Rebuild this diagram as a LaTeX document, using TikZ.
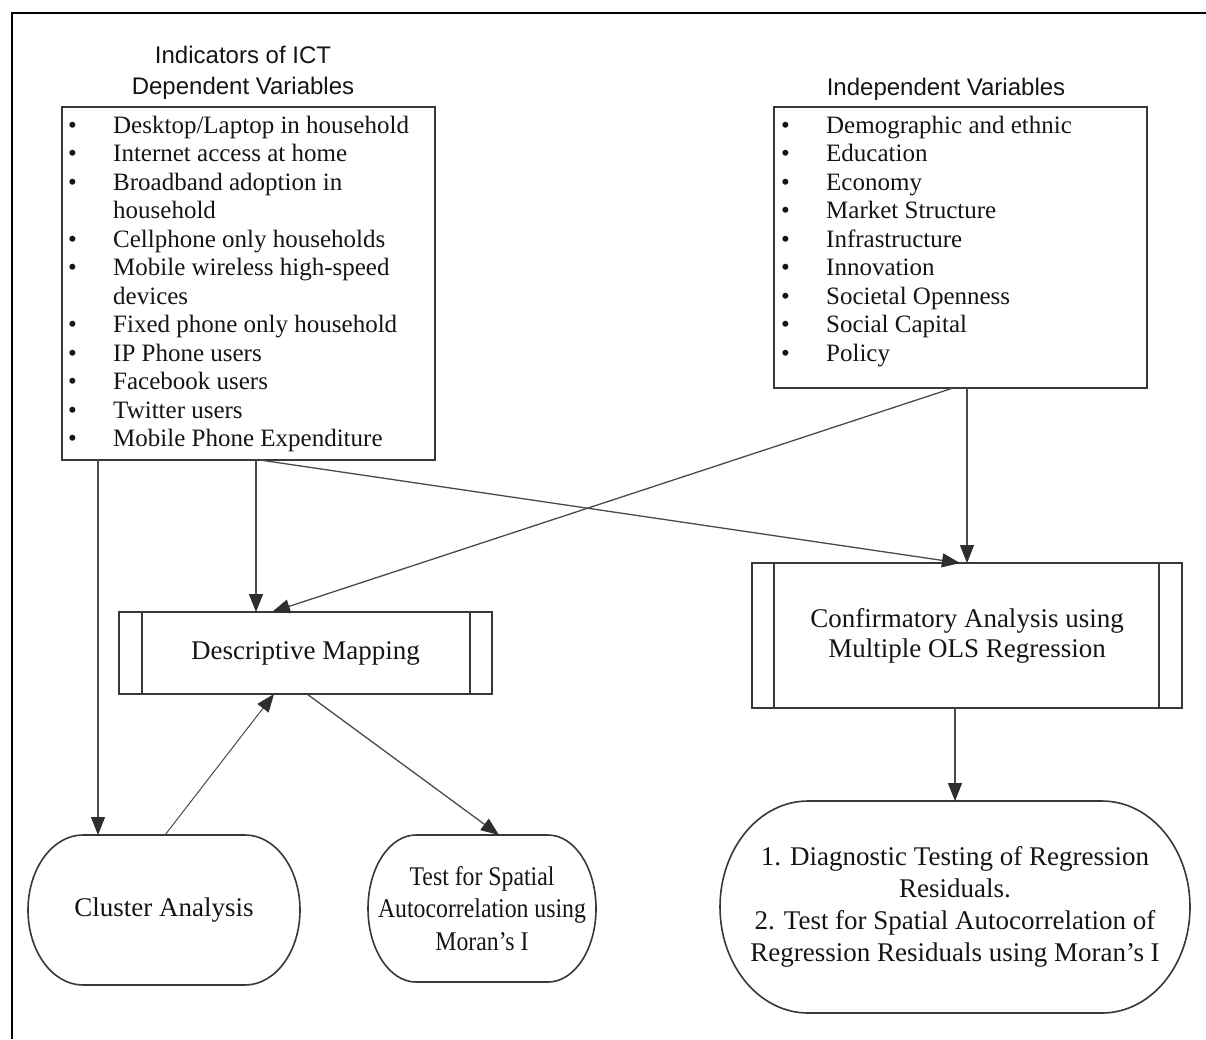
\documentclass[tikz,border=0pt]{standalone}
\usepackage{fontspec}
\setmainfont{Liberation Serif}
\newfontfamily\titlefont{Liberation Sans}
\newfontfamily\narrowserif[FakeStretch=0.88,Ligatures=TeX]{Liberation Serif}
\usetikzlibrary{arrows.meta,calc}

\definecolor{edge}{HTML}{383838}
\definecolor{wire}{HTML}{4A4A4A}
\definecolor{tipc}{HTML}{2E2E2E}
\definecolor{ink}{HTML}{151515}

\tikzset{
  boxnode/.style={draw=edge, line width=1.8pt, inner sep=0pt, outer sep=0pt},
  termnode/.style={draw=none, inner sep=0pt, outer sep=0pt, align=center, text=ink,
                   font=\fontsize{27}{32}\selectfont},
  shapeline/.style={draw=edge, line width=1.6pt},
  listtext/.style={inner sep=0pt, anchor=base west, text=ink,
                   font=\fontsize{25}{28.5}\selectfont},
  titletext/.style={inner sep=0pt, anchor=base, text=ink,
                    font=\titlefont\fontsize{24}{31}\selectfont},
  arr/.style={draw=wire, line width=1.3pt,
              -{Triangle[length=18pt,width=14pt,color=tipc]}},
}

% terminator outline drawn around a named node: #1 node, #2 end x-radius, #3 half height
\newcommand\termoutline[3]{%
  \draw[shapeline] ([xshift=#2]#1.north west) -- ([xshift=-#2]#1.north east)
    arc[start angle=90, end angle=-90, x radius=#2, y radius=#3]
    -- ([xshift=#2]#1.south west)
    arc[start angle=270, end angle=90, x radius=#2, y radius=#3] -- cycle;}

\begin{document}
\begin{tikzpicture}[x=1pt,y=-1pt]
\useasboundingbox (0,0) rectangle (1206,1039);
\fill[white] (0,0) rectangle (1206,1039);

% outer frame
\draw[line width=2.5pt, black] (12,1039) -- (12,13) -- (1206,13);

% dependent variables
\node[titletext] (lt) at (243,63)
  {\begin{tabular}[t]{@{}c@{}}Indicators of ICT\\Dependent Variables\end{tabular}};
\node[boxnode, minimum width=373pt, minimum height=353pt] (lb) at (248.5,283.5) {};
\node[listtext] (ll) at (68,133) {\begin{tabular}[t]{@{}p{45pt}@{}l@{}}
\textbullet & Desktop/Laptop in household\\
\textbullet & Internet access at home\\
\textbullet & Broadband adoption in\\
            & household\\
\textbullet & Cellphone only households\\
\textbullet & Mobile wireless high-speed\\
            & devices\\
\textbullet & Fixed phone only household\\
\textbullet & IP Phone users\\
\textbullet & Facebook users\\
\textbullet & Twitter users\\
\textbullet & Mobile Phone Expenditure
\end{tabular}};

% independent variables
\node[titletext] (rt) at (946,95) {Independent Variables};
\node[boxnode, minimum width=373pt, minimum height=281pt] (rb) at (960.5,247.5) {};
\node[listtext] (rl) at (781,133) {\begin{tabular}[t]{@{}p{45pt}@{}l@{}}
\textbullet & Demographic and ethnic\\
\textbullet & Education\\
\textbullet & Economy\\
\textbullet & Market Structure\\
\textbullet & Infrastructure\\
\textbullet & Innovation\\
\textbullet & Societal Openness\\
\textbullet & Social Capital\\
\textbullet & Policy
\end{tabular}};

% process boxes
\node[boxnode, minimum width=373pt, minimum height=82pt, text=ink,
      font=\fontsize{27}{32}\selectfont] (dm) at (305.5,653) {Descriptive Mapping};
\draw[shapeline] ([xshift=23pt]dm.north west) -- ([xshift=23pt]dm.south west);
\draw[shapeline] ([xshift=-22pt]dm.north east) -- ([xshift=-22pt]dm.south east);

\node[boxnode, minimum width=430pt, minimum height=145pt, text=ink, align=center,
      font=\fontsize{27}{30}\selectfont] (ca) at (967,635.5)
      {Confirmatory Analysis using\\Multiple OLS Regression};
\draw[shapeline] ([xshift=22pt]ca.north west) -- ([xshift=22pt]ca.south west);
\draw[shapeline] ([xshift=-23pt]ca.north east) -- ([xshift=-23pt]ca.south east);

% terminators
\node[termnode, minimum width=272pt, minimum height=150pt] (cl) at (164,910) {Cluster Analysis};
\termoutline{cl}{55pt}{75pt}
\node[termnode, minimum width=228pt, minimum height=147pt,
      font=\narrowserif\fontsize{27}{32.5}\selectfont] (ts) at (482,908.5)
  {Test for Spatial\\Autocorrelation using\\Moran’s I};
\termoutline{ts}{48pt}{73.5pt}
\node[termnode, minimum width=470pt, minimum height=212pt] (dg) at (955,907)
  {1. Diagnostic Testing of Regression\\Residuals.\\2. Test for Spatial Autocorrelation of\\Regression Residuals using Moran’s I};
\termoutline{dg}{88pt}{106pt}

% connectors
\draw[arr] ([xshift=36pt]lb.south west) coordinate (p1) -- (p1 |- cl.north);
\draw[arr] ([xshift=194pt]lb.south west) coordinate (p2) -- (p2 |- dm.north);
\draw[arr] ([xshift=198pt]lb.south west) -- ([xshift=208pt]ca.north west);
\draw[arr] ([xshift=179pt]rb.south west) -- ([xshift=153pt]dm.north west);
\draw[arr] ([xshift=193pt]rb.south west) coordinate (p5) -- (p5 |- ca.north);
\draw[arr] ([xshift=203pt]ca.south west) coordinate (p6) -- (p6 |- dg.north);
\draw[arr] ([xshift=188pt]dm.south west) -- ([xshift=131pt]ts.north west);
\draw[arr, line width=1pt] ([xshift=137pt]cl.north west) -- ([xshift=155pt]dm.south west);
\end{tikzpicture}
\end{document}
